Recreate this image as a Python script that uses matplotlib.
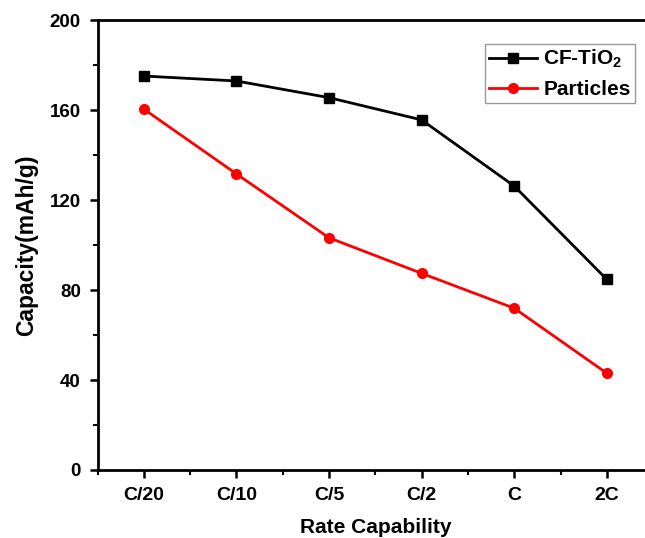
import numpy as np
import matplotlib
matplotlib.use("Agg")
import matplotlib.pyplot as plt
from matplotlib.ticker import MultipleLocator

plt.rcParams['font.family'] = ['Liberation Sans', 'DejaVu Sans']
plt.rcParams['font.weight'] = 'bold'
plt.rcParams['mathtext.fontset'] = 'custom'
plt.rcParams['mathtext.rm'] = 'Liberation Sans:bold'
plt.rcParams['mathtext.it'] = 'Liberation Sans:bold'
plt.rcParams['mathtext.bf'] = 'Liberation Sans:bold'

# capacidad a distintas tasas de descarga
rates = ["C/20", "C/10", "C/5", "C/2", "C", "2C"]
cf_tio2 = [175.1, 172.9, 165.5, 155.6, 126.2, 84.7]
particles = [160.4, 131.6, 103.2, 87.4, 71.9, 43.0]

x = np.arange(len(rates))

fig = plt.figure(figsize=(6.45, 5.38), dpi=100)
ax = fig.add_axes([0.1512, 0.1264, 0.8614, 0.8364])

ax.plot(x, cf_tio2, color='black', lw=2.0, marker='s', ms=6.5, label='CF-TiO$_2$')
ax.plot(x, particles, color='red', lw=2.0, marker='o', ms=7, label='Particles')

ax.set_xlim(-0.5, 5.5)
ax.set_ylim(0, 200)
ax.set_xticks(x)
ax.set_xticklabels(rates)
ax.xaxis.set_minor_locator(MultipleLocator(1, offset=0.5))
ax.yaxis.set_major_locator(MultipleLocator(40))
ax.yaxis.set_minor_locator(MultipleLocator(20))

for s in ax.spines.values():
    s.set_linewidth(2.0)
ax.tick_params(which='major', direction='out', length=6, width=1.8, pad=6)
ax.tick_params(axis='x', labelsize=14)
ax.tick_params(axis='y', labelsize=13.5)
ax.tick_params(which='minor', direction='out', length=3.5, width=1.5)
for lab in ax.get_xticklabels() + ax.get_yticklabels():
    lab.set_fontweight('bold')

ax.set_xlabel("Rate Capability", fontsize=15, fontweight='bold', labelpad=10)
ax.set_ylabel("Capacity(mAh/g)", fontsize=16.5, fontweight='bold', labelpad=8)

leg = ax.legend(loc='upper left', bbox_to_anchor=(0.6975, 0.9467), borderaxespad=0,
                frameon=True, fancybox=False, edgecolor='gray',
                handlelength=2.3, borderpad=0.2, labelspacing=0.45, handletextpad=0.3,
                prop={'weight': 'bold', 'size': 15})
leg.get_frame().set_linewidth(1.0)

fig.savefig("out.png", dpi=100)
